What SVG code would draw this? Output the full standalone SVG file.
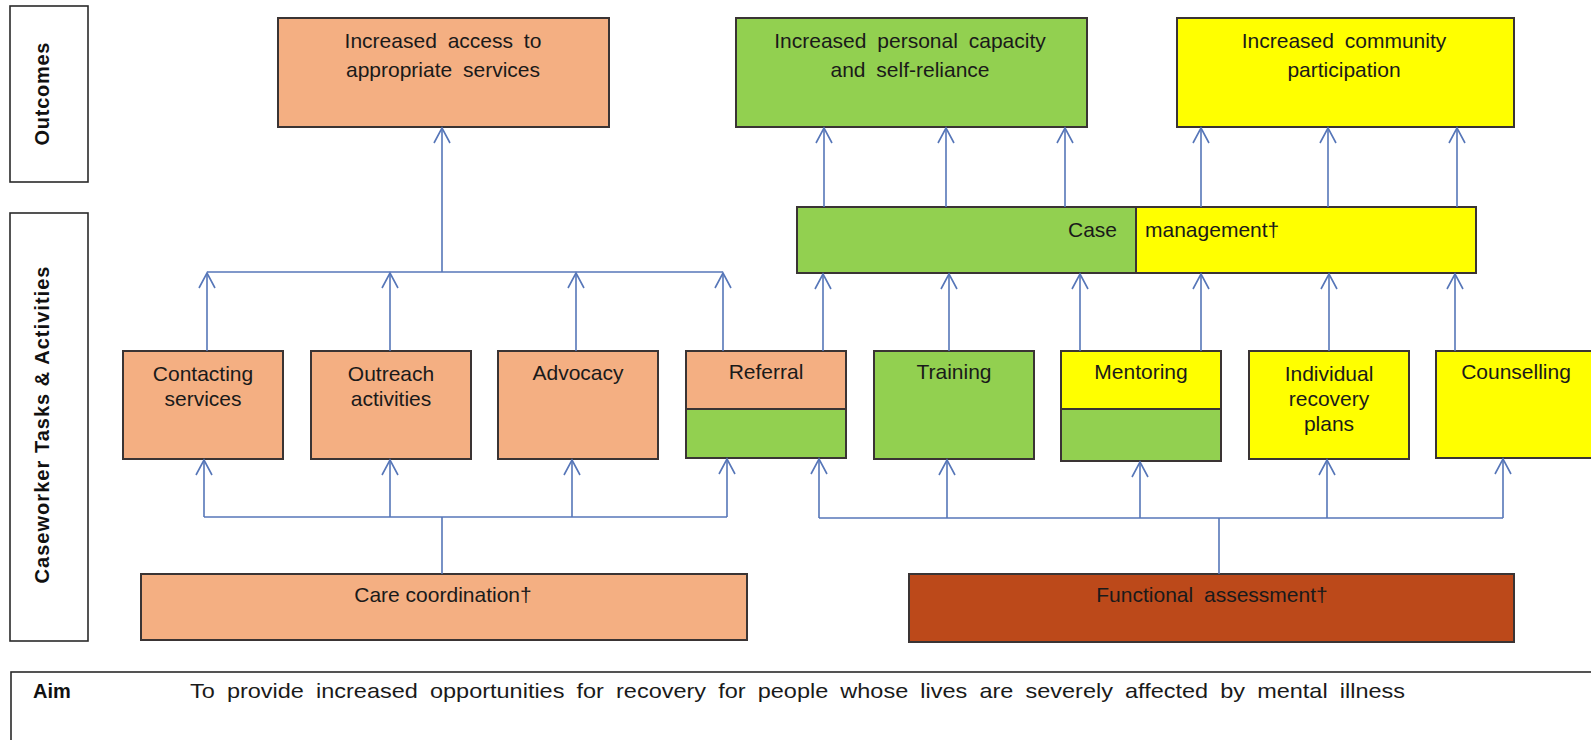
<svg xmlns="http://www.w3.org/2000/svg" width="1591" height="740" viewBox="0 0 1591 740">
<style>
.bx{stroke:#3a3434;stroke-width:2}
.lb{fill:#fff;stroke:#2a2a2a;stroke-width:1.6}
.or{fill:#F4AF82}
.gr{fill:#92D050}
.ye{fill:#FFFF00}
.br{fill:#BC491A}
.t{font-family:"Liberation Sans",Arial,sans-serif;font-size:21px;fill:#1a1a1a}
.c{text-anchor:middle}
.b{font-family:"Liberation Sans",Arial,sans-serif;font-weight:bold;font-size:20px;fill:#111}
.ln{fill:none;stroke:#5676B8;stroke-width:1.6}
.ar{marker-end:url(#ah)}
</style>
<defs>
<marker id="ah" markerUnits="userSpaceOnUse" markerWidth="20" markerHeight="20" viewBox="-16 -10 18 20" refX="0" refY="0" orient="auto">
<path d="M-15,-8 L0,0 L-15,8" fill="none" stroke="#5676B8" stroke-width="1.6"/>
</marker>
</defs>
<rect width="1591" height="740" fill="#fff"/>

<g id="label-outcomes">
<rect class="lb" x="10" y="6" width="78" height="176"/>
<text class="b c" transform="translate(49,94) rotate(-90)" textLength="103" lengthAdjust="spacing">Outcomes</text>
</g>
<g id="label-activities">
<rect class="lb" x="10" y="213" width="78" height="428"/>
<text class="b c" transform="translate(49,425) rotate(-90)" textLength="317" lengthAdjust="spacing">Caseworker Tasks &amp; Activities</text>
</g>

<g id="out-access">
<rect class="bx or" x="278" y="18" width="331" height="109"/>
<text class="t c" x="443" y="48" word-spacing="5">Increased access to</text>
<text class="t c" x="443" y="77" word-spacing="5">appropriate services</text>
</g>
<g id="out-personal">
<rect class="bx gr" x="736" y="18" width="351" height="109"/>
<text class="t c" x="910" y="48" word-spacing="5">Increased personal capacity</text>
<text class="t c" x="910" y="77" word-spacing="5">and self-reliance</text>
</g>
<g id="out-community">
<rect class="bx ye" x="1177" y="18" width="337" height="109"/>
<text class="t c" x="1344" y="48" word-spacing="5">Increased community</text>
<text class="t c" x="1344" y="77">participation</text>
</g>

<g id="case-management">
<rect class="ye" x="797" y="207" width="679" height="66"/>
<rect class="gr" x="797" y="207" width="339" height="66"/>
<line x1="1136" y1="207" x2="1136" y2="273" stroke="#3a3434" stroke-width="2"/>
<rect x="797" y="207" width="679" height="66" fill="none" stroke="#3a3434" stroke-width="2"/>
<text class="t" x="1117" y="237" text-anchor="end">Case</text>
<text class="t" x="1145" y="237">management†</text>
</g>

<g id="contacting">
<rect class="bx or" x="123" y="351" width="160" height="108"/>
<text class="t c" x="203" y="381">Contacting</text>
<text class="t c" x="203" y="406">services</text>
</g>
<g id="outreach">
<rect class="bx or" x="311" y="351" width="160" height="108"/>
<text class="t c" x="391" y="381">Outreach</text>
<text class="t c" x="391" y="406">activities</text>
</g>
<g id="advocacy">
<rect class="bx or" x="498" y="351" width="160" height="108"/>
<text class="t c" x="578" y="380">Advocacy</text>
</g>
<g id="referral">
<rect class="or" x="686" y="351" width="160" height="58"/>
<rect class="gr" x="686" y="409" width="160" height="49"/>
<line x1="686" y1="409" x2="846" y2="409" stroke="#3a3434" stroke-width="2"/>
<rect x="686" y="351" width="160" height="107" fill="none" stroke="#3a3434" stroke-width="2"/>
<text class="t c" x="766" y="379">Referral</text>
</g>
<g id="training">
<rect class="bx gr" x="874" y="351" width="160" height="108"/>
<text class="t c" x="954" y="379">Training</text>
</g>
<g id="mentoring">
<rect class="ye" x="1061" y="351" width="160" height="58"/>
<rect class="gr" x="1061" y="409" width="160" height="52"/>
<line x1="1061" y1="409" x2="1221" y2="409" stroke="#3a3434" stroke-width="2"/>
<rect x="1061" y="351" width="160" height="110" fill="none" stroke="#3a3434" stroke-width="2"/>
<text class="t c" x="1141" y="379">Mentoring</text>
</g>
<g id="individual">
<rect class="bx ye" x="1249" y="351" width="160" height="108"/>
<text class="t c" x="1329" y="381">Individual</text>
<text class="t c" x="1329" y="406">recovery</text>
<text class="t c" x="1329" y="431">plans</text>
</g>
<g id="counselling">
<rect class="bx ye" x="1436" y="351" width="170" height="107"/>
<text class="t c" x="1516" y="379">Counselling</text>
</g>

<g id="care-coordination">
<rect class="bx or" x="141" y="574" width="606" height="66"/>
<text class="t c" x="443" y="602">Care coordination†</text>
</g>
<g id="functional-assessment">
<rect class="bx br" x="909" y="574" width="605" height="68"/>
<text class="t c" x="1212" y="602" word-spacing="5">Functional assessment†</text>
</g>

<g id="aim">
<rect x="11" y="672" width="1600" height="100" fill="#fff" stroke="#2a2a2a" stroke-width="1.6"/>
<text class="b" x="33" y="698">Aim</text>
<text class="t" x="190" y="698" font-size="22" word-spacing="5" textLength="1215" lengthAdjust="spacingAndGlyphs">To provide increased opportunities for recovery for people whose lives are severely affected by mental illness</text>
</g>

<g id="connectors">
<path class="ln ar" d="M442,272 V128"/>
<path class="ln" d="M207,272 H723"/>
<path class="ln ar" d="M207,351 V273"/>
<path class="ln ar" d="M390,351 V273"/>
<path class="ln ar" d="M576,351 V273"/>
<path class="ln ar" d="M723,351 V273"/>

<path class="ln ar" d="M823,351 V274"/>
<path class="ln ar" d="M949,351 V274"/>
<path class="ln ar" d="M1080,351 V274"/>
<path class="ln ar" d="M1201,351 V274"/>
<path class="ln ar" d="M1329,351 V274"/>
<path class="ln ar" d="M1455,351 V274"/>

<path class="ln ar" d="M824,207 V128"/>
<path class="ln ar" d="M946,207 V128"/>
<path class="ln ar" d="M1065,207 V128"/>
<path class="ln ar" d="M1201,207 V128"/>
<path class="ln ar" d="M1328,207 V128"/>
<path class="ln ar" d="M1457,207 V128"/>

<path class="ln" d="M442,574 V517"/>
<path class="ln" d="M204,517 H727"/>
<path class="ln ar" d="M204,517 V460"/>
<path class="ln ar" d="M390,517 V460"/>
<path class="ln ar" d="M572,517 V460"/>
<path class="ln ar" d="M727,517 V459"/>

<path class="ln" d="M1219,574 V518"/>
<path class="ln" d="M819,518 H1503"/>
<path class="ln ar" d="M819,518 V459"/>
<path class="ln ar" d="M947,518 V460"/>
<path class="ln ar" d="M1140,518 V462"/>
<path class="ln ar" d="M1327,518 V460"/>
<path class="ln ar" d="M1503,518 V459"/>
</g>
</svg>
